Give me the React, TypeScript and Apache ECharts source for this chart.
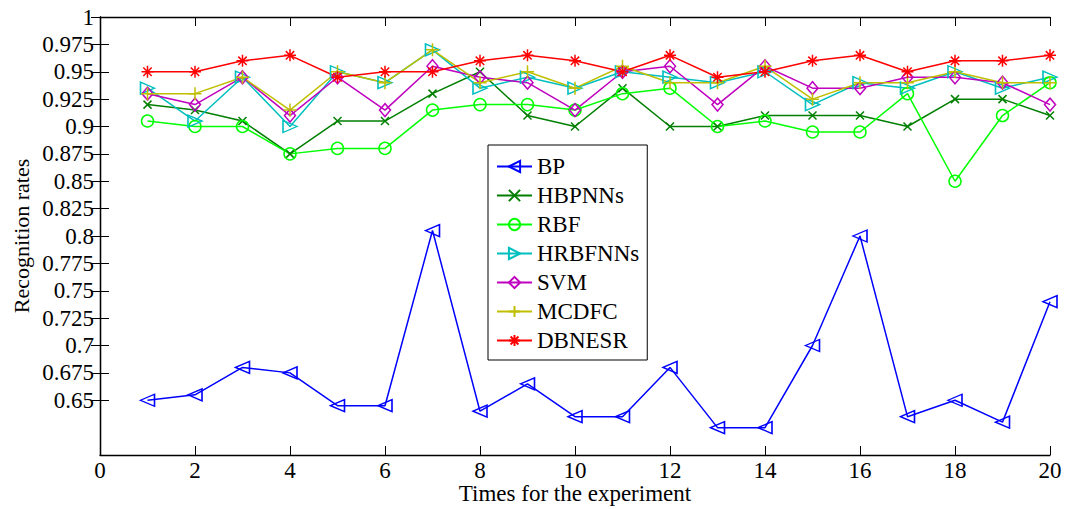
import React, { useEffect, useRef } from "react";
import * as echarts from "echarts";

const experiments = [1, 2, 3, 4, 5, 6, 7, 8, 9, 10, 11, 12, 13, 14, 15, 16, 17, 18, 19, 20];
const bp = [0.65, 0.655, 0.68, 0.675, 0.645, 0.645, 0.805, 0.64, 0.665, 0.635, 0.635, 0.68, 0.625, 0.625, 0.7, 0.8, 0.635, 0.65, 0.63, 0.74];
const hbpnns = [0.92, 0.915, 0.905, 0.875, 0.905, 0.905, 0.93, 0.95, 0.91, 0.9, 0.935, 0.9, 0.9, 0.91, 0.91, 0.91, 0.9, 0.925, 0.925, 0.91];
const rbf = [0.905, 0.9, 0.9, 0.875, 0.88, 0.88, 0.915, 0.92, 0.92, 0.915, 0.93, 0.935, 0.9, 0.905, 0.895, 0.895, 0.93, 0.85, 0.91, 0.94];
const hrbfnns = [0.935, 0.905, 0.945, 0.9, 0.95, 0.94, 0.97, 0.935, 0.945, 0.935, 0.95, 0.945, 0.94, 0.95, 0.92, 0.94, 0.935, 0.95, 0.935, 0.945];
const svm = [0.93, 0.92, 0.945, 0.91, 0.945, 0.915, 0.955, 0.945, 0.94, 0.915, 0.95, 0.955, 0.92, 0.955, 0.935, 0.935, 0.945, 0.945, 0.94, 0.92];
const mcdfc = [0.93, 0.93, 0.945, 0.915, 0.95, 0.94, 0.97, 0.94, 0.95, 0.935, 0.955, 0.94, 0.94, 0.955, 0.925, 0.94, 0.94, 0.95, 0.94, 0.94];
const dbnesr = [0.95, 0.95, 0.96, 0.965, 0.945, 0.95, 0.95, 0.96, 0.965, 0.96, 0.95, 0.965, 0.945, 0.95, 0.96, 0.965, 0.95, 0.96, 0.96, 0.965];
const yTicks = [0.65, 0.675, 0.7, 0.725, 0.75, 0.775, 0.8, 0.825, 0.85, 0.875, 0.9, 0.925, 0.95, 0.975, 1];
const seriesNames = ["BP", "HBPNNs", "RBF", "HRBFNNs", "SVM", "MCDFC", "DBNESR"];

const FONT = "Liberation Serif";

export default function App() {
  const ref = useRef<HTMLDivElement>(null);
  useEffect(() => {
    document.body.style.margin = "0";
    const chart = echarts.init(ref.current!, null, { renderer: "svg" });
    const allData = [bp, hbpnns, rbf, hrbfnns, svm, mcdfc, dbnesr];
    const colors = ["#0000ff", "#007f00", "#00ff00", "#00bfbf", "#bf00bf", "#bfbf00", "#ff0000"];
    const symbols = [
      "triangle",
      "path://M0,0L10,10M10,0L0,10",
      "circle",
      "triangle",
      "diamond",
      "path://M5,0L5,10M0,5L10,5",
      "path://M5,0L5,10M0,5L10,5M1.5,1.5L8.5,8.5M8.5,1.5L1.5,8.5",
    ];
    const sizes = [[12, 14], 8, 12, [12, 14], [11, 13], 13, 12];
    const rotates = [90, 0, 0, -90, 0, 0, 0];
    const series = seriesNames.map((name, i) => ({
      name,
      type: "line",
      data: experiments.map((x, j) => [x, allData[i][j]]),
      symbol: symbols[i],
      symbolSize: sizes[i],
      symbolRotate: rotates[i],
      showAllSymbol: true,
      lineStyle: { color: colors[i], width: 1.5 },
      itemStyle: { color: "rgba(0,0,0,0)", borderColor: colors[i], borderWidth: 1.5 },
      emphasis: { disabled: true },
    }));
    const axisLine = { show: true, lineStyle: { color: "#000", width: 1.3 } };
    chart.setOption({
      animation: false,
      textStyle: { fontFamily: FONT },
      grid: { left: 100, right: 15, top: 17, bottom: 54, outerBoundsMode: "none", containLabel: false },
      legend: {
        orient: "vertical",
        left: 488,
        top: 145,
        data: seriesNames,
        itemWidth: 35,
        itemHeight: 14,
        itemGap: 6,
        padding: [10, 8, 8, 8],
        borderColor: "#000",
        borderWidth: 1,
        backgroundColor: "#fff",
        textStyle: { fontFamily: FONT, fontSize: 23, color: "#000", lineHeight: 22 },
      },
      xAxis: [
        {
          type: "value",
          min: 0,
          max: 20,
          interval: 2,
          name: "Times for the experiment",
          nameLocation: "middle",
          nameGap: 27,
          nameMoveOverlap: false,
          nameTextStyle: { fontFamily: FONT, fontSize: 23, color: "#000" },
          axisLine,
          axisTick: { inside: true, length: 9, lineStyle: { color: "#000" } },
          axisLabel: { fontFamily: FONT, fontSize: 23, color: "#000", margin: 4 },
          splitLine: { show: false },
        },
        {
          type: "value",
          position: "top",
          min: 0,
          max: 20,
          interval: 2,
          axisLine,
          axisTick: { inside: true, length: 9, lineStyle: { color: "#000" } },
          axisLabel: { show: false },
          splitLine: { show: false },
        },
      ],
      yAxis: [
        {
          type: "value",
          min: 0.6,
          max: 1,
          interval: 0.025,
          name: "Recognition rates",
          nameLocation: "middle",
          nameGap: 68,
          nameMoveOverlap: false,
          nameTextStyle: { fontFamily: FONT, fontSize: 22, color: "#000" },
          axisLine,
          axisTick: { inside: true, length: 9, customValues: yTicks, lineStyle: { color: "#000" } },
          axisLabel: {
            fontFamily: FONT,
            fontSize: 23,
            color: "#000",
            margin: 6,
            customValues: yTicks,
            formatter: (v: number) => (v < 0.64 ? "" : String(+v.toFixed(3))),
          },
          splitLine: { show: false },
        },
        {
          type: "value",
          position: "right",
          min: 0.6,
          max: 1,
          interval: 0.025,
          axisLine,
          axisTick: { inside: true, length: 9, customValues: yTicks, lineStyle: { color: "#000" } },
          axisLabel: { show: false },
          splitLine: { show: false },
        },
      ],
      series,
    });
    return () => chart.dispose();
  }, []);
  return <div ref={ref} style={{ width: 1065, height: 509 }} />;
}
